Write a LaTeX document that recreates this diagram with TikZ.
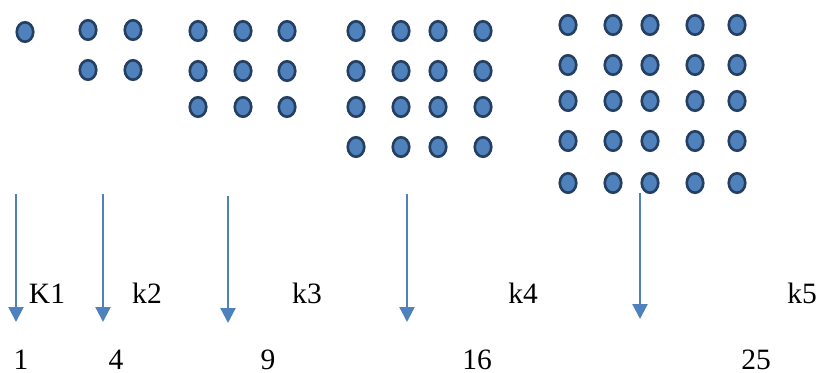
\documentclass[tikz,border=0pt]{standalone}
\usepackage{fontspec}
\setmainfont{Liberation Serif}
\usepackage{tikz}
\usetikzlibrary{shapes.geometric, arrows.meta}
\definecolor{dotfill}{HTML}{4F81BD}
\definecolor{dotline}{HTML}{243F60}
\definecolor{arrowblue}{HTML}{4F81BD}
\tikzset{
    dot/.style={ellipse, draw=dotline, fill=dotfill, line width=1.5pt, minimum width=0.33cm, minimum height=0.39cm, inner sep=0pt},
    arrow/.style={-{Triangle[length=0.3cm, width=0.3cm]}, color=arrowblue, line width=1.3pt},
    ktext/.style={anchor=base, inner sep=0pt, font=\fontsize{16.8}{20}\selectfont},
}
\begin{document}
\begin{tikzpicture}[x=0.02cm, y=-0.02cm]
    \useasboundingbox (0,0) rectangle (820,372);
    % square arrays of dots
    \node[dot] (g1) at (25,32) {};
    \foreach \x [count=\c] in {88,133}
        \foreach \y [count=\r] in {30,70}
            \node[dot] (g2-\r-\c) at (\x,\y) {};
    \foreach \x [count=\c] in {198,243,287}
        \foreach \y [count=\r] in {31,71,107}
            \node[dot] (g3-\r-\c) at (\x,\y) {};
    \foreach \x [count=\c] in {356,401,438,483}
        \foreach \y [count=\r] in {31,71,107,147}
            \node[dot] (g4-\r-\c) at (\x,\y) {};
    \foreach \x [count=\c] in {568,613,650,695,737}
        \foreach \y [count=\r] in {25,65,101,141,183}
            \node[dot] (g5-\r-\c) at (\x,\y) {};
    % arrows
    \foreach \i/\x/\t/\b in {1/16/194/322, 2/103/194/322, 3/228/196/323, 4/407/194/322, 5/640/193/319} {
        \coordinate (top\i) at (\x,\t);
        \coordinate (tip\i) at (\x,\b);
        \draw[arrow] (top\i) -- (tip\i);
    }
    % labels and counts
    \node[ktext] (k1) at (47,303) {K1};
    \node[ktext] (k2) at (147,303) {k2};
    \node[ktext] (k3) at (307,303) {k3};
    \node[ktext] (k4) at (523,303) {k4};
    \node[ktext] (k5) at (802,303) {k5};
    \node[ktext] (n1) at (21,369) {1};
    \node[ktext] (n4) at (116,369) {4};
    \node[ktext] (n9) at (268,369) {9};
    \node[ktext] (n16) at (477,369) {16};
    \node[ktext] (n25) at (756,369) {25};
\end{tikzpicture}
\end{document}
